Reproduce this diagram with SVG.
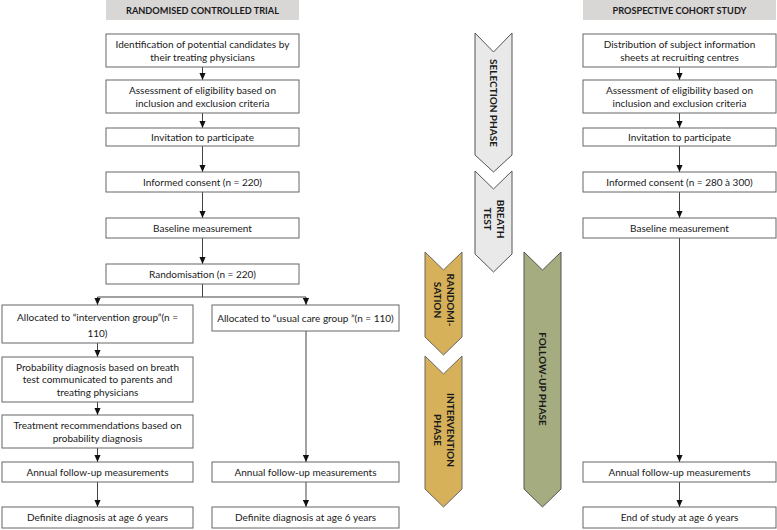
<svg xmlns="http://www.w3.org/2000/svg" width="777" height="530" viewBox="0 0 777 530">
<defs>
<marker id="ah" viewBox="0 0 8 8" refX="8" refY="4" markerWidth="7" markerHeight="7" markerUnits="userSpaceOnUse" orient="auto">
<path d="M0,0.5 L8,4 L0,7.5 Z" fill="#111"/>
</marker>
<style>
.hdr{fill:#d9d6d6;stroke:none}
.ht{font-family:Lato,"Liberation Sans",sans-serif;font-weight:bold;font-size:9.2px;fill:#1a1a1a;text-anchor:middle}
.box{fill:#fff;stroke:#666;stroke-width:1}
.t{font-family:Lato,"Liberation Sans",sans-serif;font-size:10px;fill:#1a1a1a;text-anchor:middle}
.ln{fill:none;stroke:#444;stroke-width:1;marker-end:url(#ah)}
.pl{fill:none;stroke:#444;stroke-width:1}
.pt{font-family:Lato,"Liberation Sans",sans-serif;font-weight:bold;font-size:10px;fill:#1a1a1a;text-anchor:middle}
.gray{fill:#e9e9ea;stroke:#555;stroke-width:1}
.gold{fill:#d7b05a;stroke:#666;stroke-width:1}
.olive{fill:#a4ac80;stroke:#555;stroke-width:1}
</style>
</defs>
<rect width="777" height="530" fill="#fff"/>

<g id="header-rct"><rect class="hdr" x="106" y="0" width="193" height="20"/><text class="ht" x="202.5" y="14">RANDOMISED CONTROLLED TRIAL</text></g>
<g id="header-pcs"><rect class="hdr" x="583" y="0" width="193" height="20"/><text class="ht" x="679.5" y="14">PROSPECTIVE COHORT STUDY</text></g>

<g id="connectors">
<line class="ln" x1="202.5" y1="67" x2="202.5" y2="80"/>
<line class="ln" x1="202.5" y1="113" x2="202.5" y2="128"/>
<line class="ln" x1="202.5" y1="146" x2="202.5" y2="172"/>
<line class="ln" x1="202.5" y1="192" x2="202.5" y2="218"/>
<line class="ln" x1="202.5" y1="238" x2="202.5" y2="264"/>
<polyline class="pl" points="202.5,284 202.5,297"/>
<polyline class="pl" points="97.5,297 306,297"/>
<line class="ln" x1="97.5" y1="297" x2="97.5" y2="305"/>
<line class="ln" x1="306" y1="297" x2="306" y2="305"/>
<line class="ln" x1="97.5" y1="343" x2="97.5" y2="357"/>
<line class="ln" x1="97.5" y1="402" x2="97.5" y2="415"/>
<line class="ln" x1="97.5" y1="448" x2="97.5" y2="462"/>
<line class="ln" x1="97.5" y1="482" x2="97.5" y2="507"/>
<line class="ln" x1="306" y1="331" x2="306" y2="462"/>
<line class="ln" x1="306" y1="482" x2="306" y2="507"/>
<line class="ln" x1="679.5" y1="67" x2="679.5" y2="80"/>
<line class="ln" x1="679.5" y1="113" x2="679.5" y2="128"/>
<line class="ln" x1="679.5" y1="146" x2="679.5" y2="172"/>
<line class="ln" x1="679.5" y1="192" x2="679.5" y2="218"/>
<line class="ln" x1="679.5" y1="238" x2="679.5" y2="462"/>
<line class="ln" x1="679.5" y1="482" x2="679.5" y2="507"/>
</g>

<g id="rct-identification"><rect class="box" x="106" y="34" width="193" height="33"/><text class="t" x="202.5" y="47.5">Identification of potential candidates by</text><text class="t" x="202.5" y="60.5">their treating physicians</text></g>
<g id="rct-eligibility"><rect class="box" x="106" y="80" width="193" height="33"/><text class="t" x="202.5" y="93.5">Assessment of eligibility based on</text><text class="t" x="202.5" y="106.5">inclusion and exclusion criteria</text></g>
<g id="rct-invitation"><rect class="box" x="106" y="128" width="193" height="18"/><text class="t" x="202.5" y="140.5">Invitation to participate</text></g>
<g id="rct-consent"><rect class="box" x="106" y="172" width="193" height="20"/><text class="t" x="202.5" y="185.5">Informed consent (n = 220)</text></g>
<g id="rct-baseline"><rect class="box" x="106" y="218" width="193" height="20"/><text class="t" x="202.5" y="231.5">Baseline measurement</text></g>
<g id="rct-randomisation"><rect class="box" x="106" y="264" width="193" height="20"/><text class="t" x="202.5" y="277.5">Randomisation (n = 220)</text></g>
<g id="rct-intervention-group"><rect class="box" x="2" y="305" width="191" height="38"/><text class="t" x="97.5" y="321">Allocated to “intervention group”(n =</text><text class="t" x="97.5" y="337">110)</text></g>
<g id="rct-usual-care-group"><rect class="box" x="212" y="305" width="187" height="26"/><text class="t" x="305.5" y="321.5">Allocated to “usual care group ”(n = 110)</text></g>
<g id="rct-probability"><rect class="box" x="2" y="357" width="191" height="45"/><text class="t" x="97.5" y="370.5">Probability diagnosis based on breath</text><text class="t" x="97.5" y="383">test communicated to parents and</text><text class="t" x="97.5" y="395.5">treating physicians</text></g>
<g id="rct-treatment"><rect class="box" x="2" y="415" width="191" height="33"/><text class="t" x="97.5" y="428.5">Treatment recommendations based on</text><text class="t" x="97.5" y="441.5">probability diagnosis</text></g>
<g id="rct-annual-int"><rect class="box" x="2" y="462" width="191" height="20"/><text class="t" x="97.5" y="475.5">Annual follow-up measurements</text></g>
<g id="rct-definite-int"><rect class="box" x="2" y="507" width="191" height="21"/><text class="t" x="97.5" y="521">Definite diagnosis at age 6 years</text></g>
<g id="rct-annual-uc"><rect class="box" x="212" y="462" width="187" height="20"/><text class="t" x="305.5" y="475.5">Annual follow-up measurements</text></g>
<g id="rct-definite-uc"><rect class="box" x="212" y="507" width="187" height="21"/><text class="t" x="305.5" y="521">Definite diagnosis at age 6 years</text></g>

<g id="pcs-distribution"><rect class="box" x="583" y="34" width="193" height="33"/><text class="t" x="679.5" y="47.5">Distribution of subject information</text><text class="t" x="679.5" y="60.5">sheets at recruiting centres</text></g>
<g id="pcs-eligibility"><rect class="box" x="583" y="80" width="193" height="33"/><text class="t" x="679.5" y="93.5">Assessment of eligibility based on</text><text class="t" x="679.5" y="106.5">inclusion and exclusion criteria</text></g>
<g id="pcs-invitation"><rect class="box" x="583" y="128" width="193" height="18"/><text class="t" x="679.5" y="140.5">Invitation to participate</text></g>
<g id="pcs-consent"><rect class="box" x="583" y="172" width="193" height="20"/><text class="t" x="679.5" y="185.5">Informed consent (n = 280 à 300)</text></g>
<g id="pcs-baseline"><rect class="box" x="583" y="218" width="193" height="20"/><text class="t" x="679.5" y="231.5">Baseline measurement</text></g>
<g id="pcs-annual"><rect class="box" x="583" y="462" width="193" height="20"/><text class="t" x="679.5" y="475.5">Annual follow-up measurements</text></g>
<g id="pcs-end"><rect class="box" x="583" y="507" width="193" height="21"/><text class="t" x="679.5" y="521">End of study at age 6 years</text></g>

<g id="phase-selection"><path class="gray" d="M475,33 L493.5,52 L512,33 L512,155 L493.5,172 L475,155 Z"/><text class="pt" transform="translate(493.5,103) rotate(90)" y="3.5">SELECTION PHASE</text></g>
<g id="phase-breath"><path class="gray" d="M475,171 L493.5,189 L512,171 L512,254 L493.5,272 L475,254 Z"/><text class="pt" transform="translate(493.5,219) rotate(90)"><tspan x="0" y="-3">BREATH</tspan><tspan x="0" y="10">TEST</tspan></text></g>
<g id="phase-randomisation"><path class="gold" d="M425,252 L443.5,270 L462,252 L462,337 L443.5,355 L425,337 Z"/><text class="pt" transform="translate(443.5,300) rotate(90)"><tspan x="0" y="-3">RANDOMI-</tspan><tspan x="0" y="10">SATION</tspan></text></g>
<g id="phase-intervention"><path class="gold" d="M425,356 L443.5,374 L462,356 L462,489 L443.5,507 L425,489 Z"/><text class="pt" transform="translate(443.5,430) rotate(90)"><tspan x="0" y="-3">INTERVENTION</tspan><tspan x="0" y="10">PHASE</tspan></text></g>
<g id="phase-followup"><path class="olive" d="M524,252 L542.5,270 L561,252 L561,489 L542.5,507 L524,489 Z"/><text class="pt" transform="translate(542.5,379) rotate(90)" y="3.5">FOLLOW-UP PHASE</text></g>
</svg>
